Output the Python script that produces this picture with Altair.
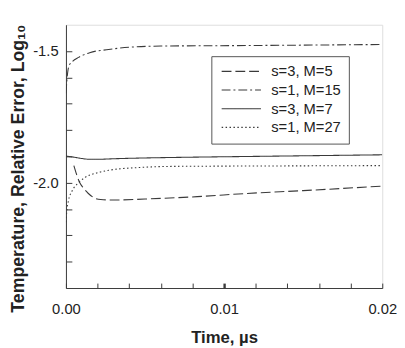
import altair as alt
import pandas as pd

# ---- data ----
series_names = ["s=3, M=5", "s=1, M=15", "s=3, M=7", "s=1, M=27"]

t_m5 = [0.0005, 0.00085, 0.0011, 0.0014, 0.0018, 0.0022, 0.003, 0.005, 0.0083, 0.0114, 0.015, 0.02]
v_m5 = [-1.935, -1.997, -2.02, -2.04, -2.058, -2.064, -2.066, -2.062, -2.053, -2.041, -2.03, -2.013]

t_m15 = [0, 0.0001, 0.0002, 0.0004, 0.0008, 0.0015, 0.0027, 0.0041, 0.006, 0.0114, 0.016, 0.02]
v_m15 = [-1.66, -1.585, -1.555, -1.54, -1.524, -1.506, -1.494, -1.485, -1.481, -1.479, -1.477, -1.475]

t_m7 = [0, 0.0005, 0.001, 0.0015, 0.002, 0.003, 0.005, 0.008, 0.012, 0.016, 0.02]
v_m7 = [-1.899, -1.903, -1.908, -1.911, -1.911, -1.909, -1.906, -1.903, -1.900, -1.897, -1.894]

t_m27 = [0, 0.00005, 0.00015, 0.0004, 0.0008, 0.0012, 0.002, 0.0027, 0.0047, 0.0068, 0.01, 0.015, 0.02]
v_m27 = [-2.15, -2.11, -2.07, -2.03, -2.0, -1.98, -1.962, -1.953, -1.942, -1.938, -1.937, -1.936, -1.935]

x_tick_values = [0.0, 0.002, 0.004, 0.006, 0.008, 0.01, 0.012, 0.014, 0.016, 0.018, 0.02]
y_tick_values = [-1.5, -1.6, -1.7, -1.8, -1.9, -2.0, -2.1, -2.2, -2.3]

rows = []
for name, ts, vs in zip(series_names, [t_m5, t_m15, t_m7, t_m27], [v_m5, v_m15, v_m7, v_m27]):
    for t, v in zip(ts, vs):
        rows.append({"series": name, "t": t, "v": v})
df = pd.DataFrame(rows)

FONT = "Liberation Sans"
INK = "#3a3a3a"
W, H = 322, 268

dash_scale = alt.Scale(
    domain=series_names,
    range=[[10, 4], [9, 3, 2, 3], [1, 0], [1.5, 2.5]],
)

xs = alt.Scale(domain=[0, 0.02], nice=False, zero=False)
ys = alt.Scale(domain=[-2.4, -1.4], nice=False, zero=False)

chart = alt.Chart(df).mark_line(
    color=INK, strokeWidth=1.1, interpolate="monotone", clip=True
).encode(
    x=alt.X("t:Q", scale=xs, axis=alt.Axis(
        orient="bottom", values=x_tick_values,
        labelExpr="abs(datum.value*100 - round(datum.value*100)) < 1e-6 ? format(datum.value, '.2f') : ''",
        ticks=True, tickSize={"expr": "-5"}, tickColor=INK,
        tickWidth={"condition": {"test": "abs(datum.value - 0.01) < 1e-6", "value": 2.4}, "value": 1},
        labelFontSize=15, labelFont=FONT, labelColor="#222", labelPadding=19,
        labelFlush=False, labelOverlap=False, domainColor=INK, domainWidth=1, grid=False,
        title="Time, µs", titleFont=FONT, titleFontSize=17, titleFontWeight="bold",
        titleColor="#222", titleY=42,
    )),
    y=alt.Y("v:Q", scale=ys, axis=alt.Axis(
        orient="left", values=y_tick_values,
        ticks=True, tickSize={"expr": "-6"}, tickColor=INK, tickWidth=1,
        labelExpr="abs(datum.value*2 - round(datum.value*2)) < 1e-6 ? '-' + format(abs(datum.value), '.1f') : ''",
        labelFontSize=15, labelFont=FONT, labelColor="#222", labelPadding=14,
        labelOverlap=False, domainColor=INK, domainWidth=1, grid=False,
        title="Temperature, Relative Error, Log₁₀", titleFont=FONT, titleFontSize=18,
        titleFontWeight="bold", titleColor="#222", titleX=-39, titleY=146,
    )),
    strokeDash=alt.StrokeDash("series:N", scale=dash_scale, sort=series_names, legend=alt.Legend(
        title=None, orient="none", legendX=148, legendY=32,
        strokeColor="#555", fillColor="white", padding=8,
        symbolType="M-1,0H7", symbolSize=100, symbolStrokeWidth=1.1,
        symbolStrokeColor=INK, symbolFillColor="transparent",
        labelFontSize=15, labelFont=FONT, labelColor="#222", labelOffset=38, rowPadding=3,
    )),
).properties(
    width=W, height=H,
    autosize=alt.AutoSizeParams(type="none"),
    padding={"left": 59, "top": 14, "right": 15, "bottom": 57},
).configure_view(stroke="#666", strokeWidth=1.2).configure(background="white")

chart.save("out.html", embed_options={"renderer": "svg", "actions": False})
